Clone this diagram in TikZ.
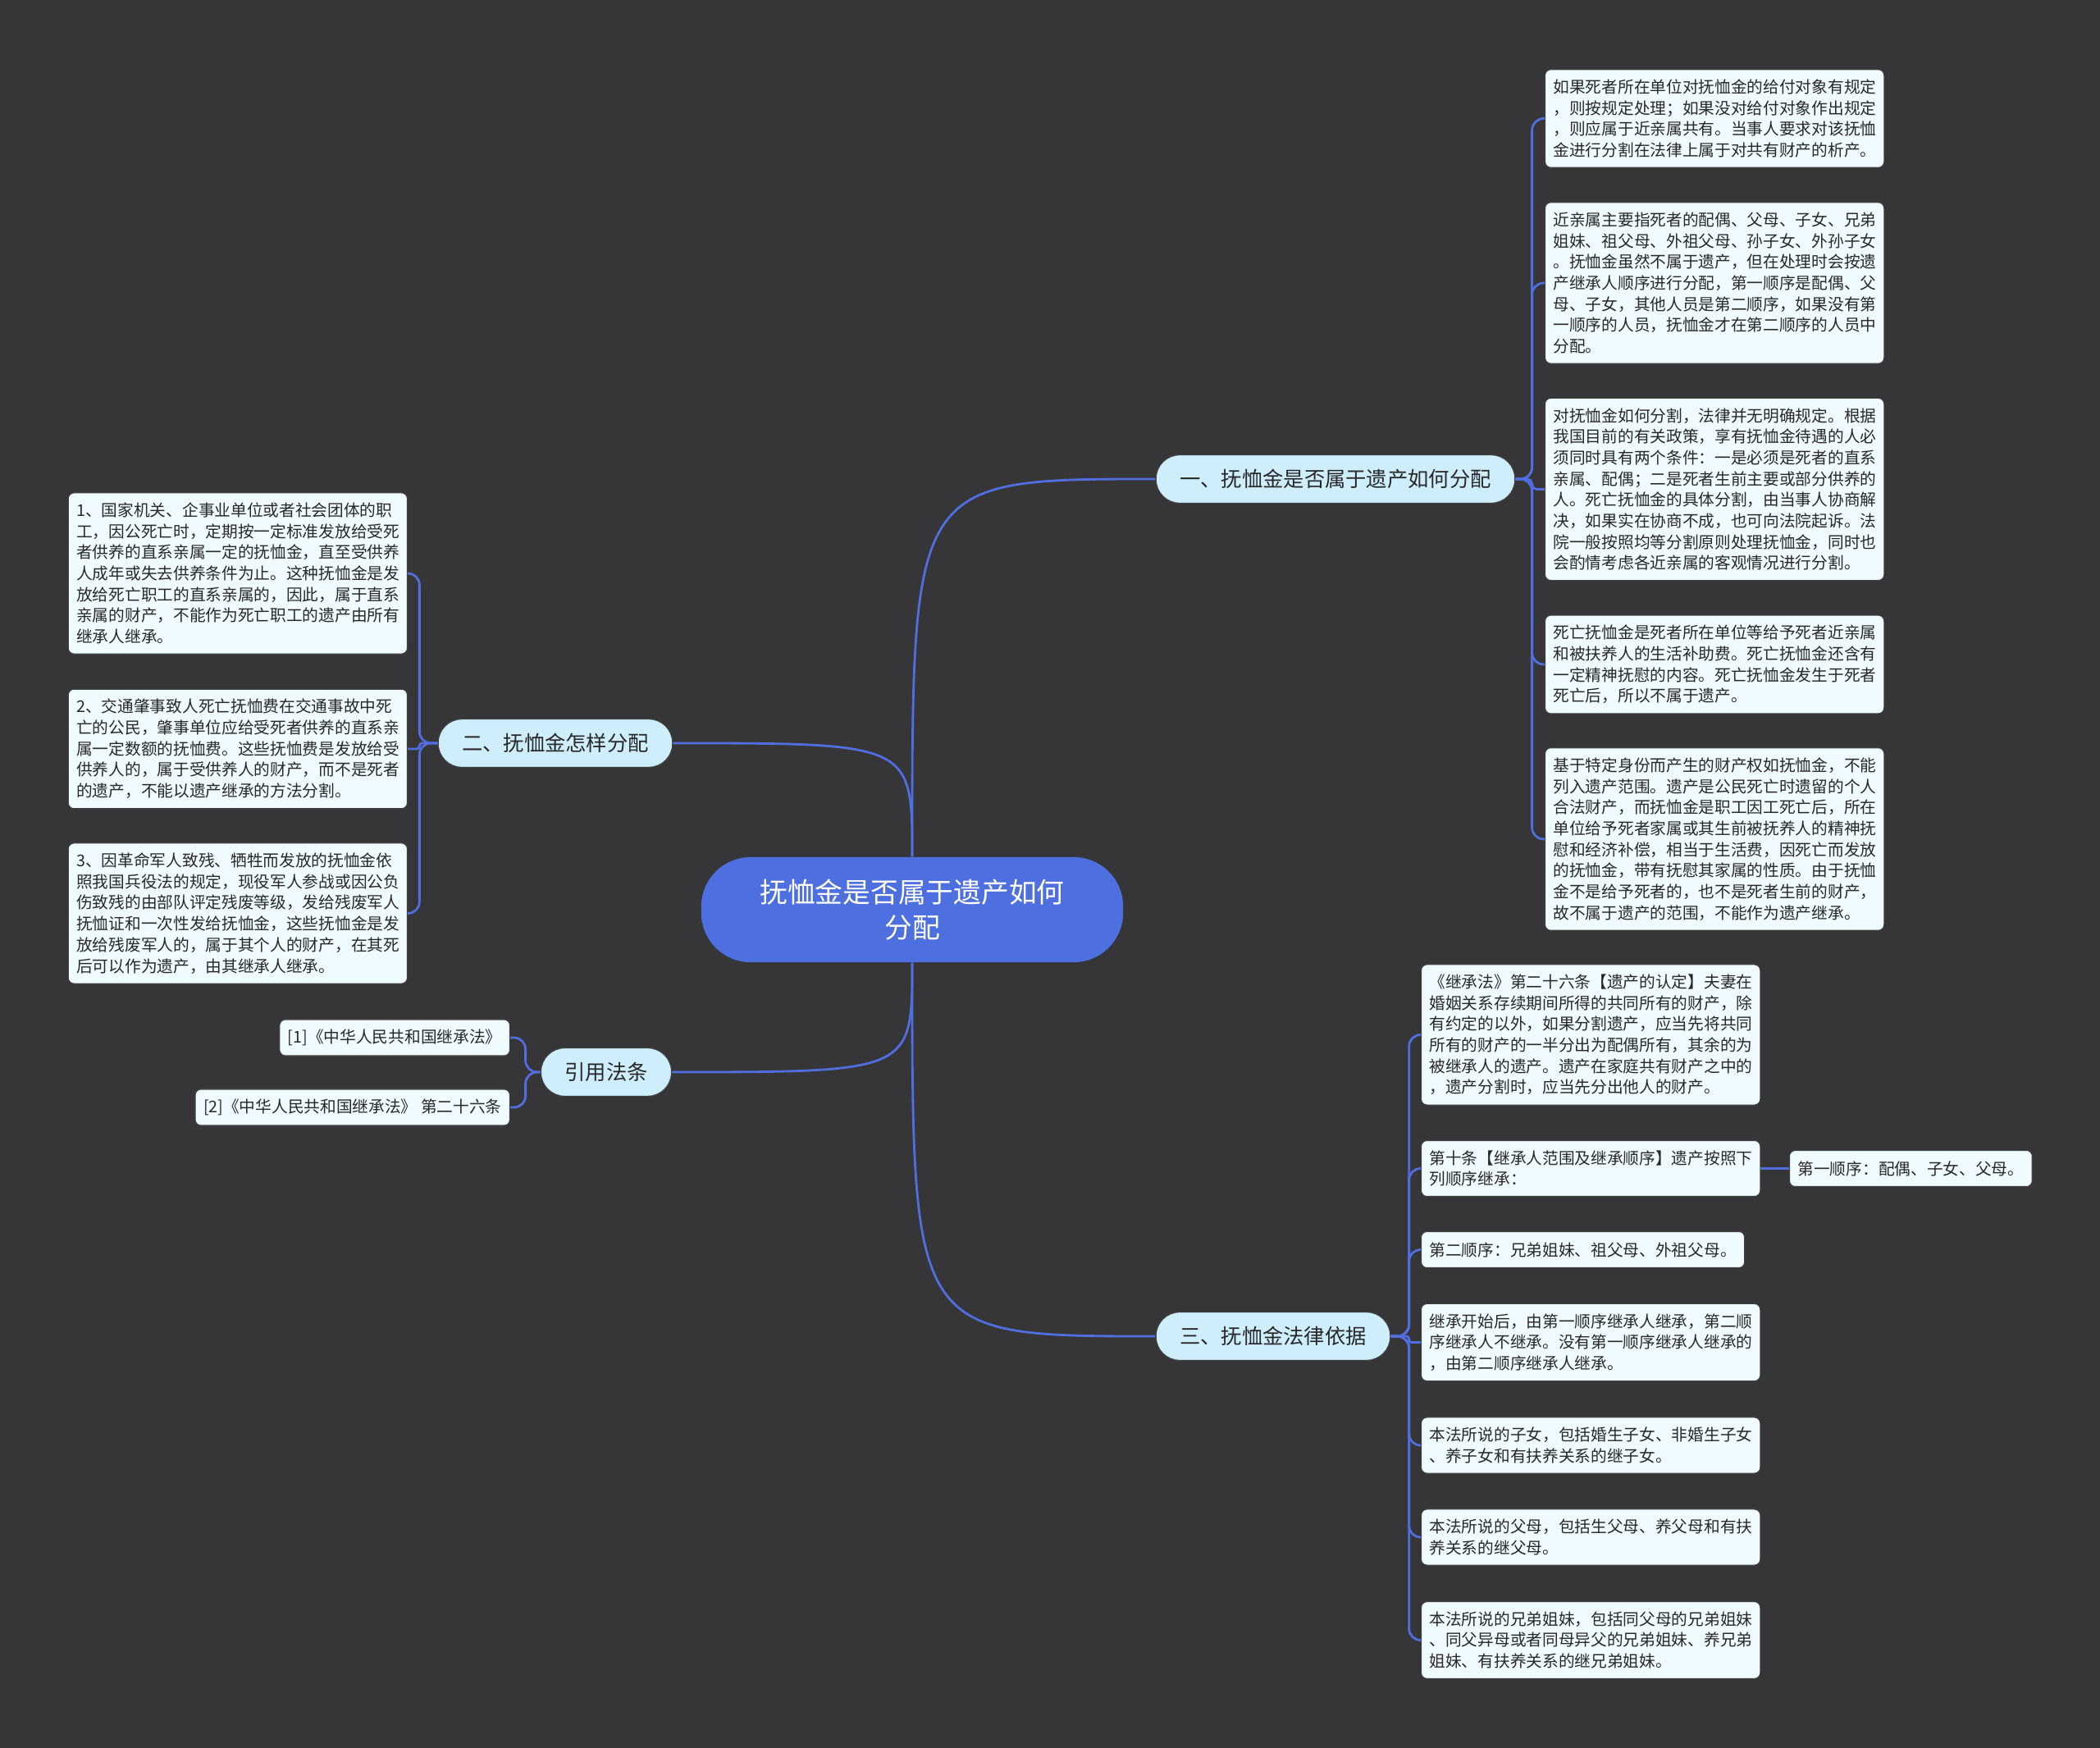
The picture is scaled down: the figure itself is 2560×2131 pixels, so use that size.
\documentclass[tikz,border=0pt]{standalone}
\usepackage{fontspec}
\setmainfont{Noto Sans CJK SC}
\definecolor{bgGray}{RGB}{54,53,55}
\definecolor{dBlue}{RGB}{80,110,222}
\definecolor{cBlue}{RGB}{77,111,224}
\definecolor{fCyan}{RGB}{206,238,252}
\definecolor{fLeaf}{RGB}{240,251,255}
\definecolor{tGray}{RGB}{40,40,40}

\begin{document}
\begin{tikzpicture}[x=0.01cm,y=-0.01cm,
  root/.style={fill=cBlue,text=white,rounded corners=0.6cm,align=center,font=\fontsize{9.6}{12.3}\selectfont,minimum width=5.14cm,minimum height=1.28cm},
  br/.style={draw=black!75,line width=0.4pt,fill=fCyan,text=tGray,rounded corners=0.29cm,font=\fontsize{7.2}{8.6}\selectfont,inner xsep=0.29cm,minimum height=0.59cm},
  box/.style={draw=black!75,line width=0.3pt,fill=fLeaf,text=tGray,rounded corners=2pt,font=\fontsize{5.6}{7.3}\selectfont,inner xsep=0.1cm,inner ysep=0.12cm,minimum height=0.44cm},
  lf/.style={box,align=left,text width=3.93cm},
  ln/.style={dBlue,line width=0.8pt}]
\fill[bgGray] (0,0) rectangle (2560,2131);
% centre and main topics
\node[root] (root) at (1112,1109) {抚恤金是否属于遗产如何\\分配};
\node[br] (b1) at (1628,584) {一、抚恤金是否属于遗产如何分配};
\node[br] (b2) at (677,906) {二、抚恤金怎样分配};
\node[br] (b3) at (739,1307) {引用法条};
\node[br] (b4) at (1552,1629) {三、抚恤金法律依据};
\draw[ln] (root.north) .. controls (1112,584) .. (b1.west);
\draw[ln] (root.north) .. controls (1112,906) .. (b2.east);
\draw[ln] (root.south) .. controls (1112,1307) .. (b3.east);
\draw[ln] (root.south) .. controls (1112,1629) .. (b4.west);
% topic one
\node[lf,anchor=west] (r1) at (1883,144.5) {如果死者所在单位对抚恤金的给付对象有规定\\，则按规定处理；如果没对给付对象作出规定\\，则应属于近亲属共有。当事人要求对该抚恤\\金进行分割在法律上属于对共有财产的析产。};
\node[lf,anchor=west] (r2) at (1883,345) {近亲属主要指死者的配偶、父母、子女、兄弟\\姐妹、祖父母、外祖父母、孙子女、外孙子女\\。抚恤金虽然不属于遗产，但在处理时会按遗\\产继承人顺序进行分配，第一顺序是配偶、父\\母、子女，其他人员是第二顺序，如果没有第\\一顺序的人员，抚恤金才在第二顺序的人员中\\分配。};
\node[lf,anchor=west] (r3) at (1883,596.5) {对抚恤金如何分割，法律并无明确规定。根据\\我国目前的有关政策，享有抚恤金待遇的人必\\须同时具有两个条件：一是必须是死者的直系\\亲属、配偶；二是死者生前主要或部分供养的\\人。死亡抚恤金的具体分割，由当事人协商解\\决，如果实在协商不成，也可向法院起诉。法\\院一般按照均等分割原则处理抚恤金，同时也\\会酌情考虑各近亲属的客观情况进行分割。};
\node[lf,anchor=west] (r4) at (1883,810) {死亡抚恤金是死者所在单位等给予死者近亲属\\和被扶养人的生活补助费。死亡抚恤金还含有\\一定精神抚慰的内容。死亡抚恤金发生于死者\\死亡后，所以不属于遗产。};
\node[lf,anchor=west] (r5) at (1883,1023) {基于特定身份而产生的财产权如抚恤金，不能\\列入遗产范围。遗产是公民死亡时遗留的个人\\合法财产，而抚恤金是职工因工死亡后，所在\\单位给予死者家属或其生前被抚养人的精神抚\\慰和经济补偿，相当于生活费，因死亡而发放\\的抚恤金，带有抚慰其家属的性质。由于抚恤\\金不是给予死者的，也不是死者生前的财产，\\故不属于遗产的范围，不能作为遗产继承。};
\foreach \c/\r in {r1/4,r2/4,r3/1.6,r4/4,r5/4} \draw[ln,rounded corners=\r pt] (b1.east) -- ++(20,0) |- (\c.west);
% topic two
\node[lf,anchor=east] (l1) at (497,699) {1、国家机关、企事业单位或者社会团体的职\\工，因公死亡时，定期按一定标准发放给受死\\者供养的直系亲属一定的抚恤金，直至受供养\\人成年或失去供养条件为止。这种抚恤金是发\\放给死亡职工的直系亲属的，因此，属于直系\\亲属的财产，不能作为死亡职工的遗产由所有\\继承人继承。};
\node[lf,anchor=east] (l2) at (497,913) {2、交通肇事致人死亡抚恤费在交通事故中死\\亡的公民，肇事单位应给受死者供养的直系亲\\属一定数额的抚恤费。这些抚恤费是发放给受\\供养人的，属于受供养人的财产，而不是死者\\的遗产，不能以遗产继承的方法分割。};
\node[lf,anchor=east] (l3) at (497,1113.5) {3、因革命军人致残、牺牲而发放的抚恤金依\\照我国兵役法的规定，现役军人参战或因公负\\伤致残的由部队评定残废等级，发给残废军人\\抚恤证和一次性发给抚恤金，这些抚恤金是发\\放给残废军人的，属于其个人的财产，在其死\\后可以作为遗产，由其继承人继承。};
\foreach \c/\r in {l1/4,l2/0.9,l3/4} \draw[ln,rounded corners=\r pt] (b2.west) -- ++(-22,0) |- (\c.east);
% cited laws
\node[box,anchor=east] (c1) at (622,1265) {[1]《中华人民共和国继承法》};
\node[box,anchor=east] (c2) at (622,1350) {[2]《中华人民共和国继承法》 第二十六条};
\foreach \c in {c1,c2} \draw[ln,rounded corners=4pt] (b3.west) -- ++(-18,0) |- (\c.east);
% topic three
\node[lf,anchor=west] (q1) at (1732,1261.5) {《继承法》第二十六条【遗产的认定】夫妻在\\婚姻关系存续期间所得的共同所有的财产，除\\有约定的以外，如果分割遗产，应当先将共同\\所有的财产的一半分出为配偶所有，其余的为\\被继承人的遗产。遗产在家庭共有财产之中的\\，遗产分割时，应当先分出他人的财产。};
\node[lf,anchor=west] (q2) at (1732,1424.5) {第十条【继承人范围及继承顺序】遗产按照下\\列顺序继承：};
\node[box,anchor=west] (q2a) at (2181,1424.5) {第一顺序：配偶、子女、父母。};
\node[box,anchor=west] (q3) at (1732,1523.5) {第二顺序：兄弟姐妹、祖父母、外祖父母。};
\node[lf,anchor=west] (q4) at (1732,1636.5) {继承开始后，由第一顺序继承人继承，第二顺\\序继承人不继承。没有第一顺序继承人继承的\\，由第二顺序继承人继承。};
\node[lf,anchor=west] (q5) at (1732,1762) {本法所说的子女，包括婚生子女、非婚生子女\\、养子女和有扶养关系的继子女。};
\node[lf,anchor=west] (q6) at (1732,1874) {本法所说的父母，包括生父母、养父母和有扶\\养关系的继父母。};
\node[lf,anchor=west] (q7) at (1732,1999.5) {本法所说的兄弟姐妹，包括同父母的兄弟姐妹\\、同父异母或者同母异父的兄弟姐妹、养兄弟\\姐妹、有扶养关系的继兄弟姐妹。};
\foreach \c/\r in {q1/4,q2/4,q3/4,q4/0.9,q5/4,q6/4,q7/4} \draw[ln,rounded corners=\r pt] (b4.east) -- ++(22,0) |- (\c.west);
\draw[ln] (q2.east) -- (q2a.west);
\end{tikzpicture}
\end{document}
